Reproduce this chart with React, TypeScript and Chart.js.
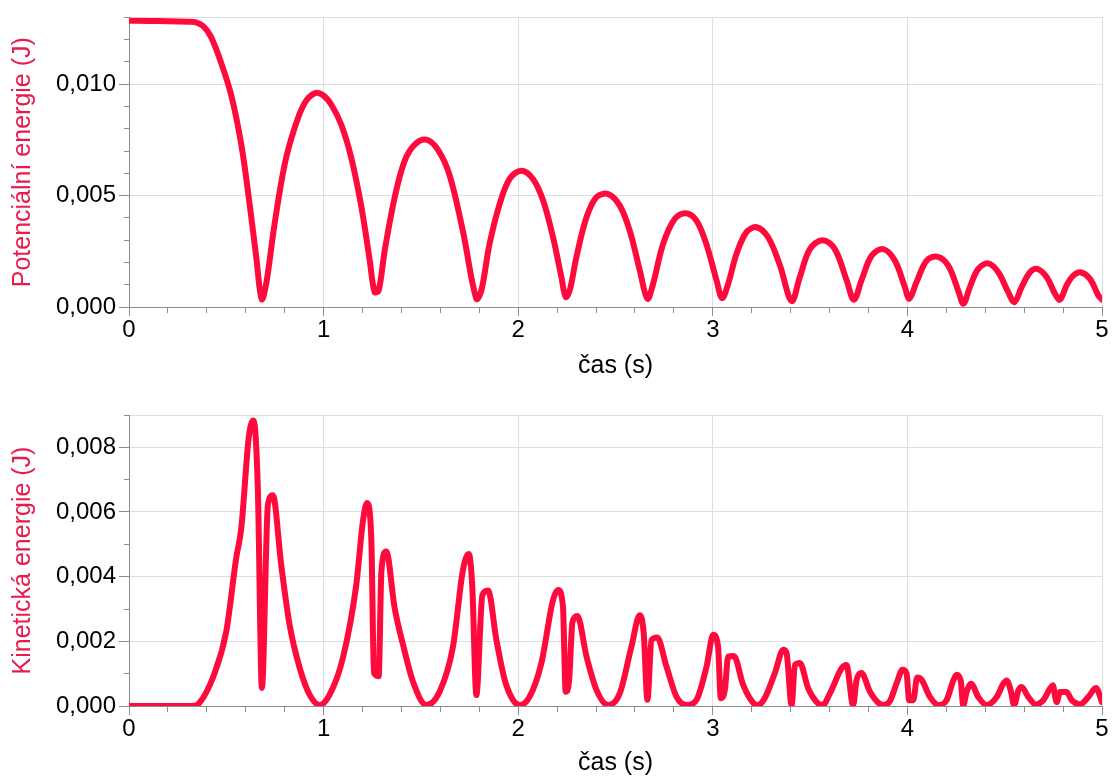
import React, { useEffect, useRef } from "react";
import { Chart, registerables } from "chart.js";

Chart.register(...registerables);

// ---------- data ----------
const xAxisLabel = "čas (s)";
const peTitle = "Potenciální energie (J)";
const keTitle = "Kinetická energie (J)";

const peTime = [
  0.0, 0.1, 0.2, 0.3, 0.34, 0.38, 0.42, 0.47, 0.525, 0.577, 0.62, 0.654, 0.682, 0.705, 0.748, 0.8, 0.851, 0.902,
  0.954, 0.996, 1.04, 1.091, 1.142, 1.194, 1.237, 1.262, 1.283, 1.314, 1.365, 1.416, 1.468, 1.528, 1.588, 1.648,
  1.716, 1.785, 1.811, 1.853, 1.905, 1.956, 2.016, 2.076, 2.128, 2.179, 2.222, 2.244, 2.265, 2.299, 2.351, 2.402,
  2.462, 2.522, 2.573, 2.625, 2.664, 2.693, 2.745, 2.805, 2.861, 2.916, 2.968, 3.019, 3.048, 3.079, 3.122, 3.173,
  3.225, 3.284, 3.344, 3.405, 3.447, 3.499, 3.564, 3.627, 3.687, 3.725, 3.764, 3.816, 3.876, 3.936, 3.987, 4.01,
  4.047, 4.099, 4.153, 4.21, 4.261, 4.288, 4.321, 4.364, 4.416, 4.467, 4.518, 4.55, 4.587, 4.63, 4.667, 4.716,
  4.758, 4.784, 4.818, 4.852, 4.89, 4.938, 4.981, 5.0,
];
const peValues = [
  0.01285, 0.01284, 0.01283, 0.01281, 0.01279, 0.01262, 0.01215, 0.01105, 0.00952, 0.00729, 0.00461, 0.00223,
  0.00035, 0.00104, 0.00372, 0.0064, 0.00804, 0.00915, 0.0096, 0.00952, 0.00908, 0.00818, 0.0067, 0.0045,
  0.0021, 0.00067, 0.00074, 0.00253, 0.00491, 0.00655, 0.00729, 0.00751, 0.00705, 0.0059, 0.0034, 0.00037,
  0.00075, 0.00284, 0.00463, 0.00575, 0.00612, 0.00575, 0.00478, 0.00313, 0.00134, 0.00045, 0.00075, 0.00224,
  0.00403, 0.00493, 0.00507, 0.00455, 0.00343, 0.00164, 0.00037, 0.00104, 0.00284, 0.00396, 0.00421, 0.00388,
  0.00279, 0.0012, 0.0004, 0.00104, 0.00239, 0.00336, 0.00358, 0.00313, 0.0019, 0.00027, 0.00134, 0.0026, 0.003,
  0.0026, 0.00122, 0.00033, 0.00119, 0.0023, 0.0026, 0.00208, 0.00089, 0.00037, 0.00112, 0.00208, 0.00226,
  0.00186, 0.00074, 0.00015, 0.00089, 0.00171, 0.00196, 0.00156, 0.00067, 0.00022, 0.00089, 0.00156, 0.00171,
  0.00134, 0.0006, 0.00033, 0.00097, 0.00141, 0.00156, 0.00126, 0.00052, 0.00033,
];

const keTime = [
  0.0, 0.1, 0.2, 0.3, 0.345, 0.362, 0.395, 0.431, 0.5, 0.551, 0.577, 0.616, 0.64, 0.662, 0.683, 0.714, 0.739,
  0.782, 0.825, 0.877, 0.928, 0.98, 1.031, 1.099, 1.168, 1.202, 1.223, 1.245, 1.259, 1.283, 1.297, 1.322, 1.365,
  1.408, 1.459, 1.528, 1.596, 1.665, 1.716, 1.746, 1.764, 1.785, 1.816, 1.845, 1.888, 1.931, 1.973, 2.008, 2.059,
  2.119, 2.179, 2.205, 2.23, 2.244, 2.261, 2.279, 2.304, 2.351, 2.402, 2.462, 2.522, 2.582, 2.625, 2.645, 2.664,
  2.685, 2.714, 2.762, 2.813, 2.865, 2.916, 2.968, 3.002, 3.027, 3.041, 3.062, 3.079, 3.108, 3.156, 3.207, 3.232,
  3.265, 3.319, 3.362, 3.379, 3.405, 3.422, 3.447, 3.49, 3.541, 3.565, 3.602, 3.662, 3.687, 3.721, 3.739, 3.764,
  3.807, 3.859, 3.88, 3.91, 3.944, 3.975, 3.996, 4.009, 4.03, 4.05, 4.073, 4.116, 4.158, 4.201, 4.236, 4.253,
  4.274, 4.287, 4.304, 4.327, 4.364, 4.407, 4.459, 4.493, 4.51, 4.531, 4.548, 4.57, 4.587, 4.621, 4.66, 4.698,
  4.733, 4.747, 4.767, 4.784, 4.818, 4.844, 4.887, 4.93, 4.969, 5.0,
];
const keValues = [
  0.0, 0.0, 0.0, 0.0, 0.00002, 0.0001, 0.0004, 0.00087, 0.00231, 0.00458, 0.0055, 0.00834, 0.00883, 0.00674,
  0.00056, 0.00623, 0.00652, 0.00437, 0.00252, 0.00118, 0.00035, 0.00003, 0.00035, 0.00148, 0.00375, 0.00571,
  0.00628, 0.0052, 0.00102, 0.00092, 0.00417, 0.00478, 0.00303, 0.0019, 0.00076, 0.00003, 0.00044, 0.00184,
  0.0042, 0.0047, 0.0037, 0.00034, 0.00343, 0.00357, 0.00204, 0.0008, 0.00019, 0.00003, 0.00029, 0.00132,
  0.00328, 0.00359, 0.00307, 0.00044, 0.00075, 0.0026, 0.00278, 0.00153, 0.0005, 0.00003, 0.00039, 0.00184,
  0.00281, 0.00225, 0.00019, 0.00204, 0.00212, 0.00122, 0.00029, 0.00003, 0.00019, 0.00122, 0.0022, 0.00184,
  0.00024, 0.0005, 0.00153, 0.00155, 0.00065, 0.0001, 0.00003, 0.00022, 0.00102, 0.00174, 0.00164, 0.00003,
  0.00127, 0.00133, 0.00055, 0.00008, 0.00003, 0.00039, 0.00117, 0.00127, 0.00003, 0.00081, 0.00102, 0.00045,
  0.00006, 0.00003, 0.00015, 0.00069, 0.00112, 0.001, 0.00018, 0.00018, 0.00088, 0.00081, 0.00028, 0.00003,
  0.00018, 0.00079, 0.00097, 0.00079, 0.00002, 0.00043, 0.00069, 0.00028, 0.00003, 0.00028, 0.00069, 0.00079,
  0.00048, 0.00003, 0.00048, 0.00059, 0.00028, 0.00005, 0.00018, 0.00054, 0.00064, 0.00012, 0.00043, 0.00043,
  0.00018, 0.00005, 0.00028, 0.00056, 0.00012,
];

const xMin = 0;
const xMax = 5;
const peYMax = 0.013;
const keYMax = 0.009;
const peLabelStepMilli = 5; // label every 0,005
const keLabelStepMilli = 2; // label every 0,002

// ---------- styling ----------
const FONT = "'Liberation Sans', Arial, sans-serif";
const LINE_COLOR = "#ff0a3c";
const TITLE_COLOR = "#ea1a4c";
const GRID_COLOR = "#dedede";
const AXIS_COLOR = "#8c8c8c";
const TICK_FONT_SIZE = 24;
const TITLE_FONT_SIZE = 25;

type PanelProps = {
  times: number[];
  values: number[];
  yMax: number;
  labelStep: number;
  yTitle: string;
  padTop: number;
  xHeight: number;
  xTitlePadBottom: number;
  smooth: "monotone" | "default";
};

function Panel(props: PanelProps) {
  const ref = useRef<HTMLCanvasElement | null>(null);
  useEffect(() => {
    if (!ref.current) return;
    const { times, values, yMax, labelStep, yTitle, padTop, xHeight, xTitlePadBottom, smooth } = props;
    const maxMilli = Math.round(yMax * 1000);
    const points = times.map((t, i) => ({ x: t, y: values[i] }));
    const chart = new Chart(ref.current, {
      type: "line",
      data: {
        datasets: [
          {
            data: points,
            borderColor: LINE_COLOR,
            borderWidth: 6,
            pointRadius: 0,
            fill: false,
            cubicInterpolationMode: smooth,
            tension: smooth === "default" ? 0.35 : 0,
            borderJoinStyle: "round",
            borderCapStyle: "round",
          },
        ],
      },
      options: {
        animation: false,
        responsive: false,
        events: [],
        layout: { padding: { top: padTop, right: 10, left: 0, bottom: 0 } },
        plugins: { legend: { display: false }, tooltip: { enabled: false } },
        scales: {
          x: {
            type: "linear",
            min: xMin,
            max: xMax,
            afterFit: (s: any) => {
              s.height = xHeight;
            },
            border: { color: AXIS_COLOR, width: 1 },
            grid: {
              tickLength: 9,
              color: (ctx: any) => {
                const v = ctx.tick ? ctx.tick.value : 0;
                return Math.abs(v - Math.round(v)) < 1e-6 && Math.round(v) !== 0 ? GRID_COLOR : "rgba(0,0,0,0)";
              },
              tickColor: AXIS_COLOR,
              tickBorderDash: (ctx: any) => {
                const v = ctx.tick ? ctx.tick.value : 0;
                return Math.abs(v - Math.round(v)) < 1e-6 ? [] : [5, 50];
              },
            },
            ticks: {
              stepSize: 0.2,
              autoSkip: false,
              maxRotation: 0,
              padding: 0,
              color: "#000",
              font: { family: FONT, size: TICK_FONT_SIZE },
              callback: (value: any) => {
                const v = Number(value);
                return Math.abs(v - Math.round(v)) < 1e-6 ? String(Math.round(v)) : "";
              },
            },
            title: {
              display: true,
              text: xAxisLabel,
              color: "#000",
              font: { family: FONT, size: TITLE_FONT_SIZE },
              padding: { top: 0, bottom: xTitlePadBottom },
            },
          },
          y: {
            type: "linear",
            min: 0,
            max: yMax,
            afterFit: (s: any) => {
              s.width = 129;
            },
            border: { color: AXIS_COLOR, width: 1 },
            grid: {
              tickLength: 10,
              color: (ctx: any) => {
                const m = Math.round((ctx.tick ? ctx.tick.value : 0) * 1000);
                return (m % labelStep === 0 && m !== 0) || m === maxMilli ? GRID_COLOR : "rgba(0,0,0,0)";
              },
              tickColor: AXIS_COLOR,
              tickBorderDash: (ctx: any) => {
                const m = Math.round((ctx.tick ? ctx.tick.value : 0) * 1000);
                return m % labelStep === 0 ? [] : [0, 5, 5, 50];
              },
            },
            ticks: {
              stepSize: 0.001,
              autoSkip: false,
              padding: 3,
              color: "#000",
              font: { family: FONT, size: TICK_FONT_SIZE },
              callback: (value: any) => {
                const m = Math.round(Number(value) * 1000);
                return m % labelStep === 0 ? (m / 1000).toFixed(3).replace(".", ",") : "";
              },
            },
            title: {
              display: true,
              text: yTitle,
              color: TITLE_COLOR,
              font: { family: FONT, size: TITLE_FONT_SIZE },
              padding: { top: 8, bottom: 0 },
            },
          },
        },
      } as any,
    });
    return () => chart.destroy();
  }, []);
  return <canvas ref={ref} width={1112} height={389} style={{ display: "block", width: 1112, height: 389 }} />;
}

export default function App() {
  return (
    <div
      style={{
        position: "absolute",
        left: 0,
        top: 0,
        width: 1112,
        height: 778,
        overflow: "hidden",
        background: "#fff",
      }}
    >
      <Panel
        times={peTime}
        values={peValues}
        yMax={peYMax}
        labelStep={peLabelStepMilli}
        yTitle={peTitle}
        padTop={16}
        xHeight={82}
        xTitlePadBottom={8}
        smooth="default"
      />
      <Panel
        times={keTime}
        values={keValues}
        yMax={keYMax}
        labelStep={keLabelStepMilli}
        yTitle={keTitle}
        padTop={26}
        xHeight={72}
        xTitlePadBottom={0}
        smooth="monotone"
      />
    </div>
  );
}
